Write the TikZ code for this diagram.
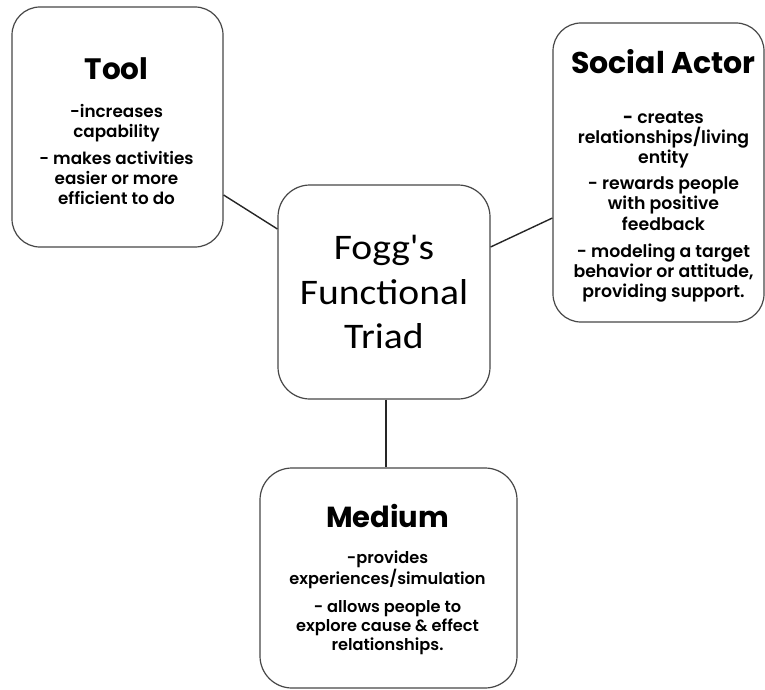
\documentclass[tikz,border=0pt]{standalone}
\usepackage{fontspec}
\newfontfamily\headfont{Poppins}
\newfontfamily\bodyfont{Poppins SemiBold}
\newfontfamily\centerfont{Carlito}[FakeStretch=1.1]
\newcommand\hdf[1]{\headfont\bfseries\fontsize{#1}{#1}\selectfont}
\newcommand\bdf[2]{\bodyfont\fontsize{#1}{#2}\selectfont}
\begin{document}
\begin{tikzpicture}[x=1pt,y=1pt,
  box/.style={draw=black!72, line width=1.2pt, rounded corners=28pt, fill=white,
    inner sep=0pt},
  txt/.style={inner sep=0pt, align=center, anchor=north},
  link/.style={draw=black!85, line width=1.4pt}]
\useasboundingbox (0,0) rectangle (765,-690);
% boxes
\node[box, minimum width=211pt, minimum height=240pt] (tool) at (117.5,-127) {};
\node[box, minimum width=211pt, minimum height=299pt] (social) at (658.5,-172.5) {};
\node[box, rounded corners=32pt, minimum width=212pt, minimum height=214pt,
  align=center, font=\centerfont\fontsize{36}{44.5}\selectfont] (center) at (384,-292)
 {Fogg's\\Functional\\Triad};
\node[box, rounded corners=32pt, minimum width=257pt, minimum height=220pt] (medium) at (388.5,-578) {};
% texts
\node[txt, font=\bdf{16.8}{20}] (tooltxt) at (116.5,-57)
 {\hdf{29.5}Tool\\[18pt]
  -increases\\capability\\[7pt]
  - makes activities\\easier or more\\efficient to do};
\node[txt, font=\bdf{17.3}{20.3}] (socialtxt) at (663.5,-49)
 {\hdf{30}Social Actor\\[29.5pt]
  {\headfont\bfseries -} creates\\relationships/living\\entity\\[5.5pt]
  - rewards people\\with positive\\feedback\\[7pt]
  - modeling a target\\behavior or attitude,\\providing support.};
\node[txt, font=\bdf{16.2}{19}] (mediumtxt) at (387.5,-504.5)
 {\hdf{29}Medium\\[17pt]
  -provides\\experiences/simulation\\[9pt]
  - allows people to\\explore cause \& effect\\relationships.};
% connectors
\draw[link] ([yshift=-68pt]tool.east) -- ([yshift=63pt]center.west);
\draw[link] ([yshift=45pt]center.east) -- ([yshift=-45.5pt]social.west);
\draw[link] ([xshift=2pt]center.south) -- ([xshift=2pt]center.south |- medium.north);
\end{tikzpicture}
\end{document}
